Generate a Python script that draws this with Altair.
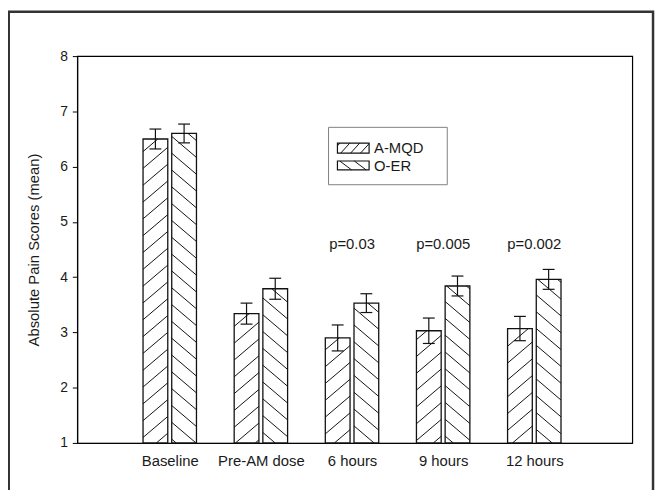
import json
import math
import altair as alt
import pandas as pd

# ---------------- data ----------------
categories = ["Baseline", "Pre-AM dose", "6 hours", "9 hours", "12 hours"]
series_names = ["A-MQD", "O-ER"]
amqd_mean = [6.50, 3.34, 2.90, 3.03, 3.07]
amqd_err = [0.18, 0.19, 0.235, 0.23, 0.22]
oer_mean = [6.60, 3.79, 3.53, 3.84, 3.96]
oer_err = [0.17, 0.19, 0.17, 0.18, 0.18]
p_labels = ["", "", "p=0.03", "p=0.005", "p=0.002"]
y_ticks = [1, 2, 3, 4, 5, 6, 7, 8]

# ---------------- layout ----------------
W, H = 561, 391
XMIN, XMAX = -0.015, 6.075
YMIN, YMAX = 1, 8
KX = W / (XMAX - XMIN)
KY = H / (YMAX - YMIN)
PLOT_LEFT, PLOT_TOP = 78, 54  # page px
FONT = "Liberation Sans"

def px2x(px):
    return (px - PLOT_LEFT) / KX + XMIN

def px2y(py):
    return YMAX - (py - PLOT_TOP) / KY

inner = 2.0 / KX
outer = 27.0 / KX
cap = 6 / KX

def hatch(x0, x1, y0, y1, slope, spacing):
    X0, X1 = (x0 - XMIN) * KX, (x1 - XMIN) * KX
    Y0, Y1 = (y0 - YMIN) * KY, (y1 - YMIN) * KY
    if slope > 0:
        cmin, cmax = Y0 - slope * X1, Y1 - slope * X0
    else:
        cmin, cmax = Y0 - slope * X0, Y1 - slope * X1
    segs = []
    for k in range(math.ceil(cmin / spacing), math.floor(cmax / spacing) + 1):
        c = k * spacing
        xa, xb = (Y0 - c) / slope, (Y1 - c) / slope
        lo = max(X0, min(xa, xb))
        hi = min(X1, max(xa, xb))
        if hi - lo > 0.8:
            segs.append({
                "hx": lo / KX + XMIN, "hy": (slope * lo + c) / KY + YMIN,
                "hx2": hi / KX + XMIN, "hy2": (slope * hi + c) / KY + YMIN,
            })
    return segs

rows, hatch_rows = [], []
for i, cat in enumerate(categories):
    idx = i + 1
    for s, means, errs, sign, slope in [
        ("A-MQD", amqd_mean, amqd_err, -1, 0.85),
        ("O-ER", oer_mean, oer_err, 1, -0.85),
    ]:
        a, b = sorted([idx + sign * inner, idx + sign * outer])
        m, e = means[i], errs[i]
        cx = (a + b) / 2
        rows.append({"cat": cat, "series": s, "x0": a, "x1": b, "mean": m,
                     "base": YMIN, "lo": m - e, "hi": m + e,
                     "cx": cx, "c0": cx - cap, "c1": cx + cap})
        hatch_rows += hatch(a, b, YMIN, m, slope, 17)

bars = pd.DataFrame(rows)
hatches = pd.DataFrame(hatch_rows)
ptext = pd.DataFrame({"x": [i + 1 for i in range(len(categories))],
                      "y": [px2y(244)] * len(categories), "t": p_labels})
ptext = ptext[ptext["t"] != ""]

# legend (layout in page px)
leg_box = pd.DataFrame([{"x0": px2x(332), "x1": px2x(452), "y0": px2y(126), "y1": px2y(184)}])
sw = [
    {"name": series_names[0], "x0": px2x(341), "x1": px2x(373), "y0": px2y(152), "y1": px2y(142),
     "tx": px2x(378), "ty": px2y(147), "slope": 1.1, "sp": 11},
    {"name": series_names[1], "x0": px2x(341), "x1": px2x(373), "y0": px2y(169), "y1": px2y(160),
     "tx": px2x(378), "ty": px2y(165), "slope": -0.75, "sp": 11},
]
leg_sw = pd.DataFrame(sw)
leg_hatch = pd.DataFrame(sum([hatch(d["x0"], d["x1"], d["y0"], d["y1"], d["slope"], d["sp"]) for d in sw], []))

xs = alt.Scale(domain=[XMIN, XMAX], nice=False, zero=False)
ys = alt.Scale(domain=[YMIN, YMAX], nice=False, zero=False)
label_expr = json.dumps(categories) + "[datum.value - 1]"

x_axis = alt.Axis(values=[1, 2, 3, 4, 5], labelExpr=label_expr, ticks=False, title=None,
                  labelPadding=11, labelFontSize=15, labelOverlap=False, labelFlush=False,
                  domainColor="black", labelColor="#1a1a1a", labelFont=FONT)
y_axis = alt.Axis(values=y_ticks, title="Absolute Pain Scores (mean)", tickSize=5,
                  labelPadding=5, labelFontSize=14, titleFontSize=15, titleFontWeight="normal",
                  titlePadding=18, domainColor="black", tickColor="black",
                  labelColor="#1a1a1a", titleColor="#1a1a1a", labelFont=FONT, titleFont=FONT)

def X(f):
    return alt.X(f, scale=xs, axis=x_axis, title=None)

def Y(f):
    return alt.Y(f, scale=ys, axis=y_axis, title="Absolute Pain Scores (mean)")

bar_fill = alt.Chart(bars).mark_rect(fill="white", stroke=None).encode(
    x=X("x0:Q"), x2="x1:Q", y=Y("mean:Q"), y2="base:Q")

hatch_layer = alt.Chart(hatches).mark_rule(color="#111", strokeWidth=1).encode(
    x=X("hx:Q"), y=Y("hy:Q"), x2="hx2:Q", y2="hy2:Q")

bar_outline = alt.Chart(bars).mark_rect(fill="transparent", stroke="#111", strokeWidth=1.3).encode(
    x=X("x0:Q"), x2="x1:Q", y=Y("mean:Q"), y2="base:Q")

err_v = alt.Chart(bars).mark_rule(color="#111", strokeWidth=1.2).encode(
    x=X("cx:Q"), y=Y("lo:Q"), y2="hi:Q")
err_top = alt.Chart(bars).mark_rule(color="#111", strokeWidth=1.2).encode(
    x=X("c0:Q"), x2="c1:Q", y=Y("hi:Q"))
err_bot = alt.Chart(bars).mark_rule(color="#111", strokeWidth=1.2).encode(
    x=X("c0:Q"), x2="c1:Q", y=Y("lo:Q"))

p_layer = alt.Chart(ptext).mark_text(font=FONT, fontSize=15, color="#1a1a1a").encode(
    x=X("x:Q"), y=Y("y:Q"), text="t:N")

legend_box = alt.Chart(leg_box).mark_rect(fill="white", stroke="#808080", strokeWidth=1).encode(
    x=X("x0:Q"), x2="x1:Q", y=Y("y0:Q"), y2="y1:Q")
legend_hatch = alt.Chart(leg_hatch).mark_rule(color="#111", strokeWidth=1).encode(
    x=X("hx:Q"), y=Y("hy:Q"), x2="hx2:Q", y2="hy2:Q")
legend_sw = alt.Chart(leg_sw).mark_rect(fill="transparent", stroke="#111", strokeWidth=1.2).encode(
    x=X("x0:Q"), x2="x1:Q", y=Y("y0:Q"), y2="y1:Q")
legend_txt = alt.Chart(leg_sw).mark_text(font=FONT, fontSize=15, align="left", color="#1a1a1a").encode(
    x=X("tx:Q"), y=Y("ty:Q"), text="name:N")

frame = alt.Chart(pd.DataFrame({"a": [0]})).mark_rect(
    fill="transparent", stroke="#333333", strokeWidth=2.5).encode(
    x=alt.value(8.75 - PLOT_LEFT), x2=alt.value(660 - PLOT_LEFT),
    y=alt.value(9.25 - PLOT_TOP), y2=alt.value(520 - PLOT_TOP))

chart = alt.layer(
    bar_fill, hatch_layer, bar_outline, err_v, err_top, err_bot, p_layer,
    legend_box, legend_hatch, legend_sw, legend_txt, frame,
).properties(
    width=W, height=H,
    padding={"left": PLOT_LEFT - 8, "top": PLOT_TOP - 8, "right": 24, "bottom": 50},
    autosize=alt.AutoSizeParams(type="none"),
    background="white",
).configure_view(stroke="black", strokeWidth=1.2).configure_axis(grid=False)

chart.save("out.html", embed_options={"renderer": "svg", "actions": False})
